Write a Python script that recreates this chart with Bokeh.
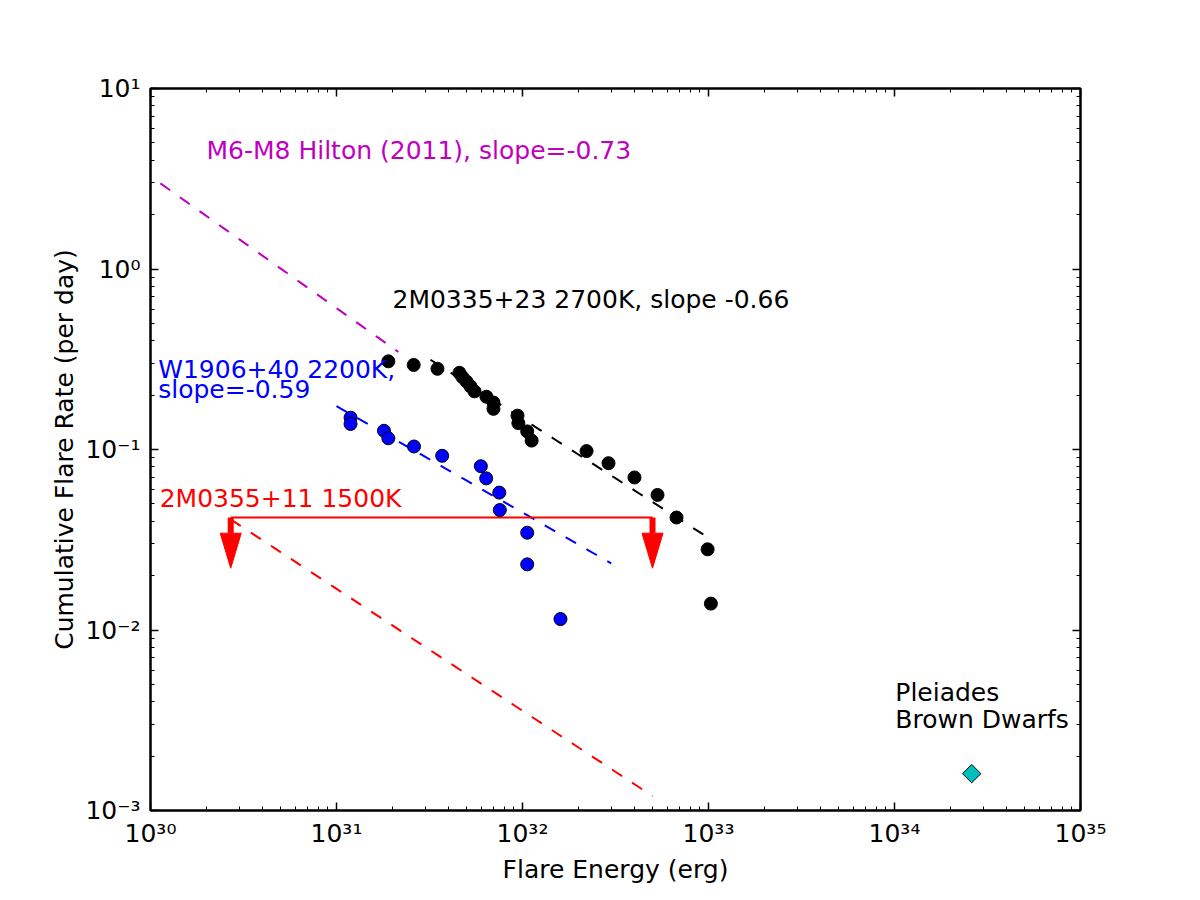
import numpy as np
from bokeh.plotting import figure
from bokeh.models import Range1d, FixedTicker, LogAxis, CustomJSTickFormatter
from bokeh.core.properties import value
from bokeh.embed import file_html
from bokeh.resources import INLINE

# --- 2M0335+23 (2700K) cumulative flare frequency ---
m0335_energy = [1.90e31, 2.60e31, 3.49e31, 4.58e31, 4.75e31, 5.00e31, 5.25e31,
                5.52e31, 6.40e31, 6.98e31, 6.98e31, 9.40e31, 9.50e31, 1.06e32,
                1.12e32, 2.21e32, 2.90e32, 4.00e32, 5.32e32, 6.73e32, 9.89e32,
                1.03e33]
m0335_rate = [0.308, 0.294, 0.280, 0.266, 0.252, 0.238, 0.224, 0.210, 0.196,
              0.182, 0.168, 0.154, 0.140, 0.126, 0.112, 0.098, 0.084, 0.070,
              0.056, 0.042, 0.028, 0.014]

# --- W1906+40 (2200K) ---
w1906_energy = [1.19e31, 1.19e31, 1.80e31, 1.90e31, 2.61e31, 3.70e31, 5.97e31,
                6.38e31, 7.50e31, 7.55e31, 1.06e32, 1.06e32, 1.60e32]
w1906_rate = [0.1500, 0.1385, 0.1270, 0.1154, 0.1039, 0.0923, 0.0808, 0.0692,
              0.0577, 0.0462, 0.0346, 0.0231, 0.0115]

# --- 2M0355+11 (1500K) upper limit ---
ul_energy = [2.7e30, 5.0e32]
ul_rate = 0.042
ul_tip = 0.022

# --- Pleiades brown dwarfs ---
pleiades_energy = [2.6e34]
pleiades_rate = [0.0016]

# --- power-law fits: (E_min, E_max, E_ref, rate at E_ref, slope) ---
fit_hilton = (1.13e30, 2.15e31, 1.0e30, 3.26, -0.73)
fit_m0335 = (3.2e31, 1.0e33, 1.0e33, 0.0324, -0.66)
fit_w1906 = (1.0e31, 3.0e32, 1.0e31, 0.174, -0.59)
fit_m0355 = (2.7e30, 5.0e32, 2.7e30, 0.041, -0.676)

x_ticks = [10.0 ** k for k in range(30, 36)]
x_minor = [m * 10.0 ** k for k in range(30, 35) for m in range(2, 10)]
y_ticks = [10.0 ** k for k in range(-3, 2)]
y_minor = [m * 10.0 ** k for k in range(-3, 1) for m in range(2, 10)]

FONT = "DejaVu Sans"
MAGENTA = "#bf00bf"
CYAN = "#00bfbf"


def fit_curve(fit, n=50):
    e0, e1, eref, rref, slope = fit
    e = np.logspace(np.log10(e0), np.log10(e1), n)
    return e, rref * (e / eref) ** slope


p = figure(width=1200, height=900, x_axis_type="log", y_axis_type="log",
           x_range=Range1d(1e30, 1e35), y_range=Range1d(1e-3, 1e1),
           output_backend="svg", toolbar_location=None,
           min_border_left=150, min_border_right=120,
           min_border_top=88, min_border_bottom=90,
           background_fill_color="white", border_fill_color="white")
p.xgrid.visible = False
p.ygrid.visible = False
p.outline_line_color = "black"
p.outline_line_width = 2

bottom_axis = p.below[0]
left_axis = p.left[0]

sup_code = """
const sup = {'0':'\u2070','1':'\u00b9','2':'\u00b2','3':'\u00b3','4':'\u2074',
             '5':'\u2075','6':'\u2076','7':'\u2077','8':'\u2078','9':'\u2079','-':'\u207b'};
const e = Math.round(Math.log10(tick));
return '10' + String(e).split('').map(c => sup[c]).join('');
"""
bottom_axis.formatter = CustomJSTickFormatter(code=sup_code)
left_axis.formatter = CustomJSTickFormatter(code=sup_code)
bottom_axis.ticker = FixedTicker(ticks=x_ticks, minor_ticks=x_minor)
left_axis.ticker = FixedTicker(ticks=y_ticks, minor_ticks=y_minor)

top_axis = LogAxis(ticker=FixedTicker(ticks=x_ticks, minor_ticks=x_minor),
                   formatter=CustomJSTickFormatter(code="return '';"))
right_axis = LogAxis(ticker=FixedTicker(ticks=y_ticks, minor_ticks=y_minor),
                     formatter=CustomJSTickFormatter(code="return '';"))
p.add_layout(top_axis, "above")
p.add_layout(right_axis, "right")

for ax in [bottom_axis, left_axis, top_axis, right_axis]:
    ax.axis_line_width = 2
    ax.axis_line_color = "black"
    ax.major_tick_in = 8
    ax.major_tick_out = 0
    ax.minor_tick_in = 4
    ax.minor_tick_out = 0
    ax.major_tick_line_width = 1.5
    ax.minor_tick_line_width = 1
    ax.major_tick_line_color = "black"
    ax.minor_tick_line_color = "black"
    ax.major_label_text_font = FONT
    ax.major_label_text_font_size = "25px"
    ax.major_label_text_color = "black"
    ax.axis_label_text_font = FONT
    ax.axis_label_text_font_size = "25px"
    ax.axis_label_text_font_style = "normal"
    ax.axis_label_text_color = "black"

bottom_axis.major_label_standoff = 8
left_axis.major_label_standoff = 10
bottom_axis.axis_label = "Flare Energy (erg)"
left_axis.axis_label = "Cumulative Flare Rate (per day)"
bottom_axis.axis_label_standoff = 4
left_axis.axis_label_standoff = 3

# fitted power laws
for fit, color in [(fit_hilton, MAGENTA), (fit_m0335, "black"),
                   (fit_w1906, "blue"), (fit_m0355, "red")]:
    e, r = fit_curve(fit)
    p.line(e, r, line_color=color, line_width=2, line_dash="12 12")

# 2M0355+11 upper limit: bracket with two downward arrows
p.line(ul_energy, [ul_rate, ul_rate], line_color="red", line_width=2)
head_len_dec = 35 / 180.5   # arrow head length, decades in rate
head_half_dec = 10.5 / 186  # arrow head half-width, decades in energy
head_base = ul_tip * 10 ** head_len_dec
p.segment(x0=ul_energy, y0=[ul_rate] * 2, x1=ul_energy, y1=[head_base] * 2,
          line_color="red", line_width=6)
p.patches(xs=[[e * 10 ** -head_half_dec, e * 10 ** head_half_dec, e] for e in ul_energy],
          ys=[[head_base, head_base, ul_tip] for _ in ul_energy],
          fill_color="red", line_color="red", line_width=1)

# data points
p.scatter(m0335_energy, m0335_rate, marker="circle", size=13,
          fill_color="black", line_color="black", line_width=1)
p.scatter(w1906_energy, w1906_rate, marker="circle", size=13,
          fill_color="blue", line_color="black", line_width=1)
p.scatter(pleiades_energy, pleiades_rate, marker="square", angle=np.pi / 4, size=13,
          fill_color=CYAN, line_color="black", line_width=1)

# annotations
LIFT = -10  # pixel nudge so the baseline sits where intended
txt = dict(text_font=value(FONT), text_font_size="25px",
           text_align="left", text_baseline="alphabetic")
p.text(x=[2.0e30], y=[4.0], y_offset=[LIFT], text=["M6-M8 Hilton (2011), slope=-0.73"],
       text_color=MAGENTA, **txt)
p.text(x=[2.0e31], y=[0.597], y_offset=[LIFT], text=["2M0335+23 2700K, slope -0.66"],
       text_color="black", **txt)
p.text(x=[1.1e30, 1.1e30], y=[0.19, 0.19], y_offset=[LIFT - 20, LIFT],
       text=["W1906+40 2200K,", "slope=-0.59"], text_color="blue", **txt)
p.text(x=[1.12e30], y=[0.047], y_offset=[LIFT], text=["2M0355+11 1500K"],
       text_color="red", **txt)
p.text(x=[1.01e34, 1.01e34], y=[0.0028, 0.0028], y_offset=[LIFT - 27, LIFT],
       text=["Pleiades", "Brown Dwarfs"], text_color="black", **txt)

open("out.html", "w", encoding="utf-8").write(file_html(p, INLINE))
